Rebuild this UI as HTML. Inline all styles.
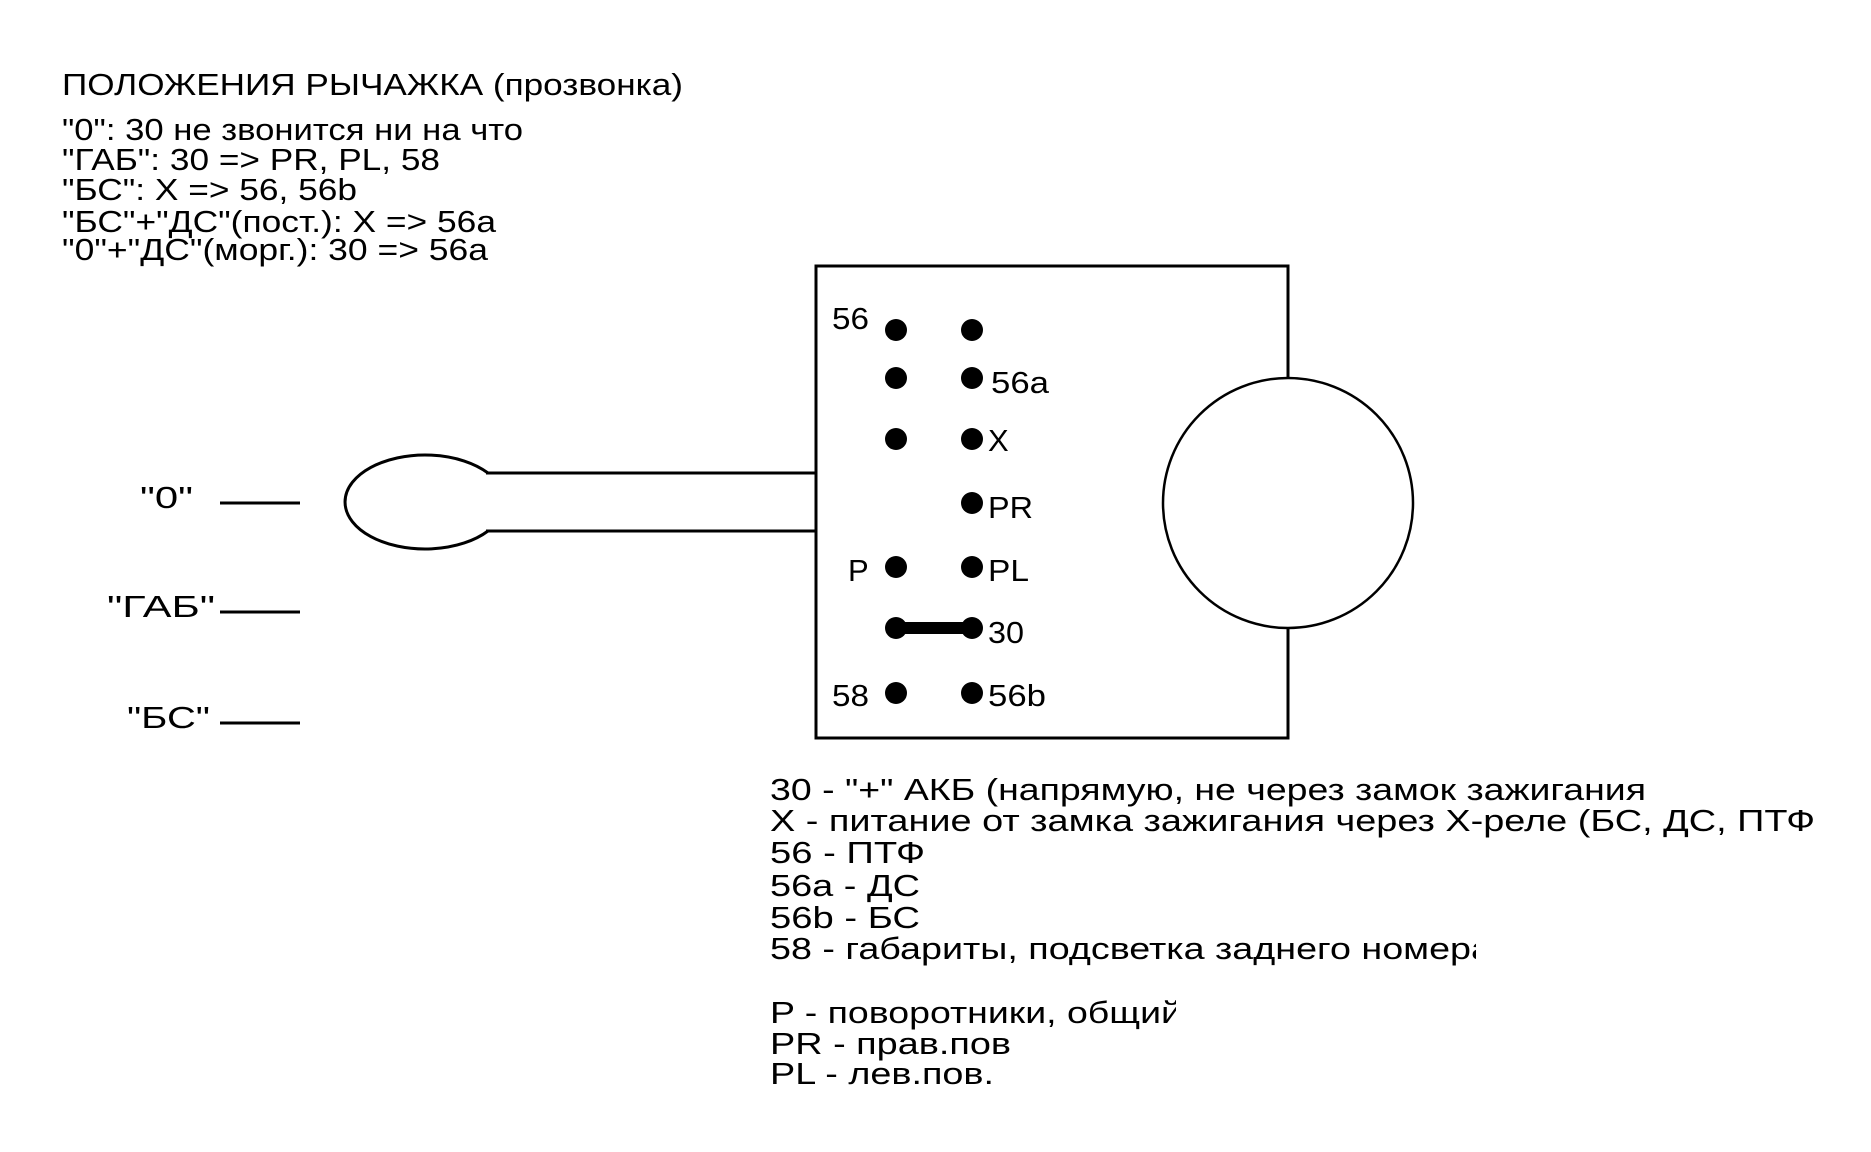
<!DOCTYPE html>
<html><head><meta charset="utf-8"><style>
html,body{margin:0;padding:0;background:#fff;}
svg{display:block;}
text{font-family:"Liberation Sans",Arial,sans-serif;fill:#000;}
</style></head><body>
<svg width="1871" height="1152" viewBox="0 0 1871 1152" xmlns="http://www.w3.org/2000/svg">
<defs>
<clipPath id="c1"><rect x="0" y="0" width="1815" height="1152"/></clipPath>
<clipPath id="c2"><rect x="0" y="0" width="1476" height="1152"/></clipPath>
<clipPath id="c3"><rect x="0" y="0" width="1176" height="1152"/></clipPath>
</defs>
<g font-size="31">
<text x="62" y="95" textLength="621" lengthAdjust="spacingAndGlyphs">ПОЛОЖЕНИЯ РЫЧАЖКА (прозвонка)</text>
<text x="62" y="140" textLength="461" lengthAdjust="spacingAndGlyphs">"0": 30 не звонится ни на что</text>
<text x="62" y="170" textLength="378" lengthAdjust="spacingAndGlyphs">"ГАБ": 30 =&gt; PR, PL, 58</text>
<text x="62" y="200" textLength="295" lengthAdjust="spacingAndGlyphs">"БС": X =&gt; 56, 56b</text>
<text x="62" y="232" textLength="434" lengthAdjust="spacingAndGlyphs">"БС"+"ДС"(пост.): X =&gt; 56a</text>
<text x="62" y="260" textLength="426" lengthAdjust="spacingAndGlyphs">"0"+"ДС"(морг.): 30 =&gt; 56a</text>
</g>
<g font-size="31">
<text x="140" y="508" textLength="53" lengthAdjust="spacingAndGlyphs">"0"</text>
<text x="107" y="617" textLength="108" lengthAdjust="spacingAndGlyphs">"ГАБ"</text>
<text x="127" y="728" textLength="83" lengthAdjust="spacingAndGlyphs">"БС"</text>
</g>
<g stroke="#000" stroke-width="3" fill="none">
<line x1="220" y1="503" x2="300" y2="503"/>
<line x1="220" y1="612" x2="300" y2="612"/>
<line x1="220" y1="723" x2="300" y2="723"/>
<path d="M488,473 A80,47 0 1 0 488,531"/>
<line x1="486" y1="473" x2="816" y2="473"/>
<line x1="486" y1="531" x2="816" y2="531"/>
<path d="M1288,378 L1288,266 L816,266 L816,738 L1288,738 L1288,628"/>
<ellipse cx="1288" cy="503" rx="125" ry="125" stroke-width="2.5"/>
</g>
<g fill="#000">
<circle cx="896" cy="330" r="11"/><circle cx="972" cy="330" r="11"/>
<circle cx="896" cy="378" r="11"/><circle cx="972" cy="378" r="11"/>
<circle cx="896" cy="439" r="11"/><circle cx="972" cy="439" r="11"/>
<circle cx="972" cy="503" r="11"/>
<circle cx="896" cy="567" r="11"/><circle cx="972" cy="567" r="11"/>
<circle cx="896" cy="628" r="11"/><circle cx="972" cy="628" r="11"/>
<rect x="896" y="622" width="76" height="12"/>
<circle cx="896" cy="693" r="11"/><circle cx="972" cy="693" r="11"/>
</g>
<g font-size="31">
<text x="832" y="329" textLength="37" lengthAdjust="spacingAndGlyphs">56</text>
<text x="991" y="393" textLength="58" lengthAdjust="spacingAndGlyphs">56a</text>
<text x="988" y="451">X</text>
<text x="988" y="518" textLength="45" lengthAdjust="spacingAndGlyphs">PR</text>
<text x="848" y="581">P</text>
<text x="988" y="581" textLength="41" lengthAdjust="spacingAndGlyphs">PL</text>
<text x="988" y="643" textLength="36" lengthAdjust="spacingAndGlyphs">30</text>
<text x="832" y="706" textLength="37" lengthAdjust="spacingAndGlyphs">58</text>
<text x="988" y="706" textLength="58" lengthAdjust="spacingAndGlyphs">56b</text>
</g>
<g font-size="31">
<text x="770" y="800" textLength="876" lengthAdjust="spacingAndGlyphs">30 - "+" АКБ (напрямую, не через замок зажигания</text>
<text x="770" y="831" textLength="1045" lengthAdjust="spacingAndGlyphs" clip-path="url(#c1)">X  - питание от замка зажигания через Х-реле (БС, ДС, ПТФ</text>
<text x="770" y="863" textLength="155" lengthAdjust="spacingAndGlyphs">56 - ПТФ</text>
<text x="770" y="896" textLength="150" lengthAdjust="spacingAndGlyphs">56a - ДС</text>
<text x="770" y="928" textLength="150" lengthAdjust="spacingAndGlyphs">56b - БС</text>
<text x="770" y="959" textLength="722" lengthAdjust="spacingAndGlyphs" clip-path="url(#c2)">58 - габариты, подсветка заднего номера</text>
<text x="770" y="1023" textLength="412" lengthAdjust="spacingAndGlyphs" clip-path="url(#c3)">P - поворотники, общий</text>
<text x="770" y="1054" textLength="241" lengthAdjust="spacingAndGlyphs">PR - прав.пов</text>
<text x="770" y="1084" textLength="224" lengthAdjust="spacingAndGlyphs">PL - лев.пов.</text>
</g>
</svg>
</body></html>
